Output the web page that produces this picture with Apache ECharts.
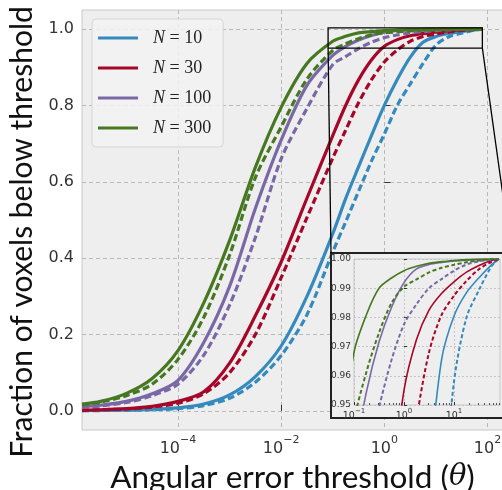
<!DOCTYPE html>
<html>
<head>
<meta charset="utf-8">
<script src="https://cdn.jsdelivr.net/npm/echarts@6/dist/echarts.min.js"></script>
<style>
  html, body { margin: 0; padding: 0; background: #fff; }
  #chart { width: 502px; height: 490px; }
</style>
</head>
<body>
<div id="chart"></div>
<script>
// x values are log10 of the angular error threshold
var xExp = [-5.86, -5.5, -5, -4.5, -4, -3.5, -3, -2.5, -2, -1.5, -1, -0.75, -0.5, -0.25, 0, 0.25, 0.5, 0.75, 1, 1.25, 1.5, 1.75, 1.9];

var names = ['N=10', 'N=30', 'N=100', 'N=300'];
var colors = ['#348ABD', '#A60628', '#7A68A6', '#467821'];

// solid curves
var n10Solid = [0.001, 0.0015, 0.002, 0.004, 0.008, 0.018, 0.042, 0.09, 0.17, 0.30, 0.464, 0.556, 0.639, 0.721, 0.80, 0.868, 0.926, 0.9654, 0.9805, 0.9885, 0.9936, 0.998, 1.0];
var n30Solid = [0.002, 0.003, 0.006, 0.012, 0.025, 0.05, 0.125, 0.249, 0.39, 0.557, 0.721, 0.80, 0.867, 0.919, 0.955, 0.9724, 0.9825, 0.9882, 0.9922, 0.9955, 0.9978, 0.9995, 1.0];
var n100Solid = [0.011, 0.015, 0.025, 0.045, 0.08, 0.179, 0.326, 0.53, 0.709, 0.8525, 0.931, 0.9546, 0.9716, 0.9834, 0.9919, 0.9966, 0.9981, 0.9988, 0.9993, 0.9996, 0.9998, 0.9999, 1.0];
var n300Solid = [0.018, 0.025, 0.046, 0.085, 0.158, 0.283, 0.446, 0.638, 0.795, 0.91, 0.968, 0.981, 0.990, 0.9935, 0.996, 0.9975, 0.9985, 0.9991, 0.9995, 0.9998, 1.0, 1.0, 1.0];

// dashed curves
var n10Dashed = [0.001, 0.001, 0.002, 0.003, 0.006, 0.014, 0.033, 0.075, 0.145, 0.252, 0.416, 0.495, 0.575, 0.654, 0.725, 0.80, 0.856, 0.91, 0.958, 0.980, 0.9894, 0.9975, 1.0];
var n30Dashed = [0.002, 0.003, 0.005, 0.01, 0.02, 0.045, 0.1, 0.20, 0.349, 0.506, 0.662, 0.735, 0.807, 0.867, 0.914, 0.945, 0.968, 0.9808, 0.9874, 0.9925, 0.9965, 0.999, 1.0];
var n100Dashed = [0.010, 0.013, 0.022, 0.04, 0.07, 0.146, 0.277, 0.454, 0.66, 0.792, 0.907, 0.928, 0.949, 0.9654, 0.9776, 0.9845, 0.990, 0.9931, 0.996, 0.9981, 0.9992, 0.9998, 1.0];
var n300Dashed = [0.016, 0.023, 0.04, 0.07, 0.135, 0.245, 0.408, 0.611, 0.744, 0.869, 0.944, 0.9614, 0.9747, 0.9849, 0.9905, 0.993, 0.9954, 0.997, 0.998, 0.9989, 0.9995, 0.9999, 1.0];

var solidSets = [n10Solid, n30Solid, n100Solid, n300Solid];
var dashedSets = [n10Dashed, n30Dashed, n100Dashed, n300Dashed];

// tick labels
var mainXTicks = [-4, -2, 0, 2];
var mainYTicks = [0, 0.2, 0.4, 0.6, 0.8, 1.0];
var insetXTicks = [-1, 0, 1];

// zoomed region (x in log10, y fraction)
var zoomX = [-1.09, 1.9];
var zoomY = [0.95, 1.003];

var FONT = 'DejaVu Sans';
var TITLE_FONT = 'Lato';

function pairs(ys) {
  return xExp.map(function(x, i) { return [x, ys[i]]; });
}

function powLabel(v) {
  var e = v < 0 ? '\u2212' + (-v) : String(v);
  return '{b|10}{s|' + e + '}';
}

// log minor tick positions for the inset (2..9 x 10^d)
var insetMinor = [];
insetXTicks.forEach(function(d) {
  for (var k = 2; k <= 9; k++) insetMinor.push(d + Math.log10(k));
});

var chart = echarts.init(document.getElementById('chart'));

var series = [];
for (var i = 0; i < 4; i++) {
  series.push({
    name: names[i], type: 'line', xAxisIndex: 0, yAxisIndex: 0,
    data: pairs(solidSets[i]), symbol: 'none', smooth: 0.3, z: 2,
    lineStyle: { color: colors[i], width: 3.2 }, itemStyle: { color: colors[i] }
  });
  series.push({
    name: names[i] + ' dashed', type: 'line', xAxisIndex: 0, yAxisIndex: 0,
    data: pairs(dashedSets[i]), symbol: 'none', smooth: 0.3, z: 2,
    lineStyle: { color: colors[i], width: 3.2, type: [7, 3.5] }, itemStyle: { color: colors[i] }
  });
}
for (var j = 0; j < 4; j++) {
  series.push({
    name: names[j] + ' inset', type: 'line', xAxisIndex: 1, yAxisIndex: 1,
    data: pairs(solidSets[j]), symbol: 'none', smooth: 0.3, z: 6, clip: true,
    lineStyle: { color: colors[j], width: 1.6 }, itemStyle: { color: colors[j] }
  });
  series.push({
    name: names[j] + ' inset dashed', type: 'line', xAxisIndex: 1, yAxisIndex: 1,
    data: pairs(dashedSets[j]), symbol: 'none', smooth: 0.3, z: 6, clip: true,
    lineStyle: { color: colors[j], width: 2, type: [4, 2.5] }, itemStyle: { color: colors[j] }
  });
}

var tickColor = '#333';

chart.setOption({
  animation: false,
  backgroundColor: '#fff',
  grid: [
    { left: 82, top: 10, width: 421, height: 420, show: true, backgroundColor: '#eeeeee',
      borderColor: '#c8c8c8', borderWidth: 1, outerBoundsMode: 'none', containLabel: false },
    { left: 354, top: 259, width: 146, height: 146, show: true, backgroundColor: '#eeeeee',
      borderColor: '#c8c8c8', borderWidth: 1, z: 4, outerBoundsMode: 'none', containLabel: false }
  ],
  legend: {
    data: names, orient: 'vertical', left: 92, top: 19,
    icon: 'rect', itemWidth: 40, itemHeight: 3, itemGap: 10,
    padding: [9, 12, 9, 6],
    backgroundColor: 'rgba(242,242,242,0.85)', borderColor: '#d6d6d6', borderWidth: 1, borderRadius: 4,
    selectedMode: false,
    formatter: function(n) { return '{n|N}{e| = }{v|' + n.split('=')[1] + '}'; },
    textStyle: {
      padding: [0, 0, 0, 10], lineHeight: 20, height: 20,
      rich: {
        n: { fontFamily: 'Liberation Serif', fontStyle: 'italic', fontSize: 18, lineHeight: 20, color: '#222' },
        e: { fontFamily: 'Liberation Serif', fontSize: 18, lineHeight: 20, color: '#222' },
        v: { fontFamily: 'Liberation Serif', fontSize: 18, lineHeight: 20, color: '#222' }
      }
    }
  },
  xAxis: [
    {
      type: 'value', gridIndex: 0, min: -5.86, max: 2.3,
      axisLine: { show: false },
      axisTick: { show: true, inside: true, length: 6, lineStyle: { color: tickColor }, customValues: mainXTicks },
      axisLabel: {
        customValues: mainXTicks, margin: 5, formatter: powLabel,
        rich: {
          b: { fontFamily: FONT, fontSize: 16, color: tickColor, lineHeight: 22, verticalAlign: 'bottom' },
          s: { fontFamily: FONT, fontSize: 11, color: tickColor, lineHeight: 8, verticalAlign: 'top' }
        }
      },
      splitLine: { show: true, lineStyle: { color: '#b8b8b8', type: [4, 3], width: 1 } },
      name: 'Angular error threshold ({t|\u03b8})', nameLocation: 'middle', nameGap: 17,
      nameTextStyle: {
        fontFamily: TITLE_FONT, fontSize: 31.5, color: '#111',
        rich: { t: { fontFamily: 'DejaVu Serif', fontStyle: 'italic', fontSize: 29, color: '#111' } }
      }
    },
    {
      type: 'value', gridIndex: 1, min: -1, max: 1.92, z: 5,
      axisLine: { show: false },
      axisTick: { show: true, inside: true, length: 3, lineStyle: { color: tickColor }, customValues: insetXTicks },
      axisLabel: {
        customValues: insetXTicks, margin: 3, formatter: powLabel,
        rich: {
          b: { fontFamily: FONT, fontSize: 9.5, color: tickColor, lineHeight: 13, verticalAlign: 'bottom' },
          s: { fontFamily: FONT, fontSize: 7, color: tickColor, lineHeight: 5, verticalAlign: 'top' }
        }
      },
      splitLine: { show: true, lineStyle: { color: '#c4c4c4', type: [2, 2], width: 1 } }
    },
    {
      // minor ticks of the inset, moved down onto its bottom edge
      type: 'value', gridIndex: 1, min: -1, max: 1.92, z: 5, position: 'top', offset: -146,
      axisLine: { show: false },
      axisTick: { show: true, inside: false, length: 2, lineStyle: { color: '#555' }, customValues: insetMinor },
      axisLabel: { show: false },
      splitLine: { show: false }
    }
  ],
  yAxis: [
    {
      type: 'value', gridIndex: 0, min: -0.05, max: 1.05,
      axisLine: { show: false },
      axisTick: { show: true, inside: true, length: 6, lineStyle: { color: tickColor }, customValues: mainYTicks },
      axisLabel: {
        customValues: mainYTicks, margin: 8, fontFamily: FONT, fontSize: 16, color: tickColor,
        formatter: function(v) { return v.toFixed(1); }
      },
      splitLine: { show: true, lineStyle: { color: '#b8b8b8', type: [4, 3], width: 1 } },
      name: 'Fraction of voxels below threshold', nameLocation: 'middle', nameRotate: 90, nameGap: 42,
      nameTextStyle: { fontFamily: TITLE_FONT, fontSize: 30, color: '#111', padding: [0, 24, 0, 0] }
    },
    {
      type: 'value', gridIndex: 1, min: 0.95, max: 1.0, interval: 0.01, z: 5,
      axisLine: { show: false },
      axisTick: { show: true, inside: true, length: 3, lineStyle: { color: tickColor } },
      axisLabel: {
        margin: 3, fontFamily: FONT, fontSize: 9, color: tickColor,
        formatter: function(v) { return v.toFixed(2); }
      },
      splitLine: { show: true, lineStyle: { color: '#c4c4c4', type: [2, 2], width: 1 } }
    }
  ],
  series: series
});

// inset frame, zoom box and connector lines
var insetGrid = { left: 354, top: 259, height: 146 };
var frame = { x: insetGrid.left - 23, y: insetGrid.top - 6, w: 180, h: insetGrid.height + 19 };
var bl = chart.convertToPixel({ xAxisIndex: 0, yAxisIndex: 0 }, [zoomX[0], zoomY[0]]);
var tr = chart.convertToPixel({ xAxisIndex: 0, yAxisIndex: 0 }, [zoomX[1], zoomY[1]]);
var lineStyle = { stroke: '#000', lineWidth: 1.3, fill: null };

chart.setOption({
  graphic: [
    { type: 'rect', z: 3, silent: true,
      shape: { x: frame.x, y: frame.y, width: frame.w, height: frame.h },
      style: { fill: '#eeeeee', stroke: '#222', lineWidth: 2 } },
    { type: 'rect', z: 8, silent: true,
      shape: { x: bl[0], y: tr[1], width: tr[0] - bl[0], height: bl[1] - tr[1] },
      style: lineStyle },
    { type: 'line', z: 8, silent: true,
      shape: { x1: bl[0], y1: bl[1], x2: frame.x, y2: frame.y }, style: lineStyle },
    { type: 'line', z: 8, silent: true,
      shape: { x1: tr[0], y1: bl[1], x2: frame.x + frame.w, y2: frame.y }, style: lineStyle }
  ]
});
</script>
</body>
</html>
